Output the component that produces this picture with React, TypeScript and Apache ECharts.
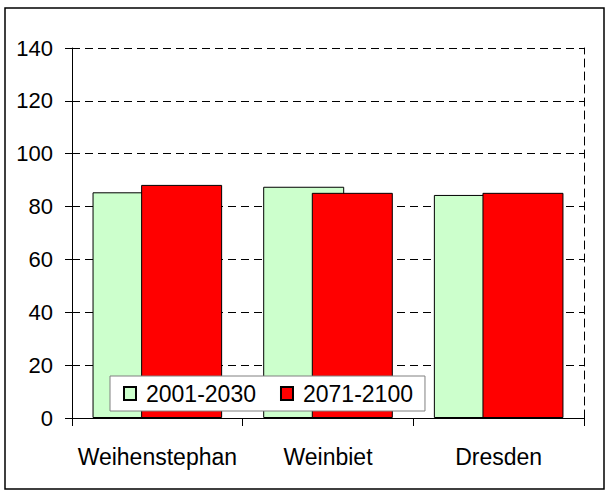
import React, { useEffect, useRef } from "react";
import * as echarts from "echarts";

const categories = ["Weihenstephan", "Weinbiet", "Dresden"];
const series2001 = [85.4, 87.5, 84.4];
const series2071 = [88.2, 85.2, 85.2];
const seriesNames = ["2001-2030", "2071-2100"];
const yTicks = { min: 0, max: 140, interval: 20 };

const FONT = "'Liberation Sans', Arial, sans-serif";

export default function App() {
  const ref = useRef<HTMLDivElement>(null);
  useEffect(() => {
    if (!ref.current) return;
    const chart = echarts.init(ref.current, null, { renderer: "svg" });
    chart.setOption({
      animation: false,
      backgroundColor: "#ffffff",
      textStyle: { fontFamily: FONT },
      grid: { left: 72, right: 22, top: 48, bottom: 75, containLabel: false },
      graphic: [
        {
          type: "rect",
          shape: { x: 5, y: 8, width: 599, height: 481 },
          style: { fill: "none", stroke: "#000", lineWidth: 1.5 },
          z: 100,
        },
      ],
      legend: {
        left: 110,
        top: 376,
        orient: "horizontal",
        data: seriesNames,
        itemWidth: 12,
        itemHeight: 13,
        itemGap: 24,
        padding: [6, 12, 6, 13],
        backgroundColor: "#ffffff",
        borderColor: "#808080",
        borderWidth: 1,
        icon: "rect",
        textStyle: { fontSize: 23, color: "#000", fontFamily: FONT, padding: [0, 0, 0, 5] },
      },
      xAxis: {
        type: "category",
        data: categories,
        axisLine: { show: true, lineStyle: { color: "#000", width: 1 } },
        axisTick: { show: true, length: 8, lineStyle: { color: "#000" } },
        axisLabel: { interval: 0, fontSize: 23, color: "#000", margin: 27, fontFamily: FONT },
      },
      yAxis: [
        {
          type: "value",
          min: yTicks.min,
          max: yTicks.max,
          interval: yTicks.interval,
          axisLine: { show: true, lineStyle: { color: "#000", width: 1 } },
          axisTick: { show: true, length: 7, lineStyle: { color: "#000" } },
          axisLabel: { fontSize: 22, color: "#000", margin: 19, fontFamily: FONT },
          splitLine: { show: true, lineStyle: { color: "#000", type: [8, 5], width: 1 } },
        },
        {
          type: "value",
          position: "right",
          min: yTicks.min,
          max: yTicks.max,
          interval: yTicks.interval,
          axisLine: { show: true, lineStyle: { color: "#000", type: [8, 5], width: 1 } },
          axisTick: { show: false },
          axisLabel: { show: false },
          splitLine: { show: false },
        },
      ],
      series: [
        {
          name: seriesNames[0],
          type: "bar",
          data: series2001,
          barWidth: 81,
          barGap: "-40%",
          itemStyle: { color: "#CCFFCC", borderColor: "#000", borderWidth: 1 },
        },
        {
          name: seriesNames[1],
          type: "bar",
          data: series2071,
          barWidth: 81,
          barGap: "-40%",
          itemStyle: { color: "#FF0000", borderColor: "#000", borderWidth: 1 },
        },
      ],
    });
    return () => chart.dispose();
  }, []);
  return (
    <div
      ref={ref}
      style={{ position: "fixed", left: 0, top: 0, width: 606, height: 493 }}
    />
  );
}
